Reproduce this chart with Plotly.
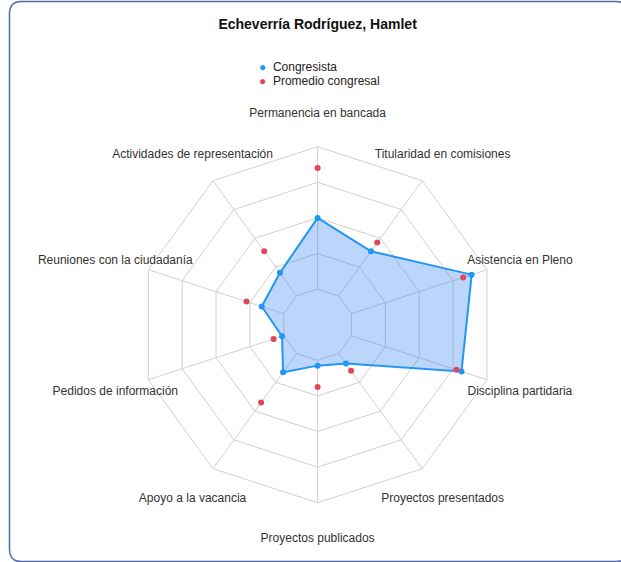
import plotly.graph_objects as go

W, H = 621, 562

categories = [
    "Permanencia en bancada",
    "Titularidad en comisiones",
    "Asistencia en Pleno",
    "Disciplina partidaria",
    "Proyectos presentados",
    "Proyectos publicados",
    "Apoyo a la vacancia",
    "Pedidos de información",
    "Reuniones con la ciudadanía",
    "Actividades de representación",
]
congresista = [60, 51, 91, 85, 27, 23, 33, 21, 33, 36]
promedio = [88, 57, 86, 82, 32, 35, 54, 26, 42, 51]
ring_ticks = [20, 40, 60, 80, 100]

GRID = "#d0d0d0"
BLUE = "#2196f3"
RED = "#e0475e"
FONT = "Liberation Sans, Arial, sans-serif"


def px(x, y):
    # pixel -> paper coords (margins are zero)
    return x / W, 1 - y / H


def domain(cx, cy, r):
    a, b = px(cx - r, cy + r)
    c, d = px(cx + r, cy - r)
    return dict(x=[a, c], y=[b, d])


fig = go.Figure()

# spokes: from the innermost ring out to the edge
for cat in categories:
    fig.add_trace(go.Scatterpolar(
        r=[ring_ticks[0], ring_ticks[-1]], theta=[cat, cat],
        mode="lines", line=dict(color=GRID, width=1),
        showlegend=False, hoverinfo="skip",
    ))

# filled outline for the congresista
fig.add_trace(go.Scatterpolar(
    r=congresista + congresista[:1],
    theta=categories + categories[:1],
    mode="lines",
    line=dict(color=BLUE, width=2),
    fill="toself",
    fillcolor="rgba(33,120,243,0.3)",
    showlegend=False, hoverinfo="skip",
))

fig.add_trace(go.Scatterpolar(
    r=congresista, theta=categories,
    mode="markers", name="Congresista",
    marker=dict(color=BLUE, size=6),
))

fig.add_trace(go.Scatterpolar(
    r=promedio, theta=categories,
    mode="markers", name="Promedio congresal",
    marker=dict(color=RED, size=6),
))

# category names on a second, invisible polar 1.2x larger
fig.add_trace(go.Scatterpolar(
    r=[ring_ticks[-1]] * len(categories), theta=categories,
    mode="text", text=categories, textposition="middle center",
    textfont=dict(size=12, color="#333333", family=FONT),
    cliponaxis=False, showlegend=False, hoverinfo="skip",
    subplot="polar2",
))

# hand-made compact legend (dot + name)
legend_items = [("Congresista", BLUE), ("Promedio congresal", RED)]
annotations = []
for i, (name, col) in enumerate(legend_items):
    lx, ly = px(257, 67 + 14 * i)
    annotations.append(dict(
        x=lx, y=ly, xref="paper", yref="paper",
        xanchor="left", yanchor="middle", showarrow=False,
        text=f"<span style='color:{col}'>●</span>  {name}",
        font=dict(size=12, color="#222222", family=FONT),
    ))

x0, y0 = px(9.5, 1.5)
x1, y1 = px(628, 561.5)
rx, ry = 12 / W, 12 / H
border = (
    f"M {x0 + rx},{y0} L {x1 - rx},{y0} Q {x1},{y0} {x1},{y0 - ry} "
    f"L {x1},{y1 + ry} Q {x1},{y1} {x1 - rx},{y1} "
    f"L {x0 + rx},{y1} Q {x0},{y1} {x0},{y1 + ry} "
    f"L {x0},{y0 - ry} Q {x0},{y0} {x0 + rx},{y0} Z"
)

cx, cy, R = 317.6, 324.7, 178
hidden = dict(showticklabels=False, ticks="", showline=False, showgrid=False)

fig.update_layout(
    width=W, height=H,
    margin=dict(l=0, r=0, t=0, b=0),
    paper_bgcolor="white",
    plot_bgcolor="white",
    showlegend=False,
    font=dict(family=FONT, size=12, color="#333333"),
    title=dict(
        text="<b>Echeverría Rodríguez, Hamlet</b>",
        x=cx / W, xanchor="center", y=1 - 24 / H, yanchor="middle",
        font=dict(size=14, color="#111111", family=FONT),
    ),
    annotations=annotations,
    polar=dict(
        domain=domain(cx, cy, R),
        gridshape="linear",
        bgcolor="white",
        radialaxis=dict(
            range=[0, 100], tickvals=ring_ticks,
            showticklabels=False, ticks="", showline=False,
            gridcolor=GRID, gridwidth=1,
        ),
        angularaxis=dict(
            rotation=90, direction="clockwise",
            showticklabels=False, ticks="", showgrid=False,
            showline=True, linecolor=GRID, linewidth=1,
        ),
    ),
    polar2=dict(
        domain=domain(cx, cy + 2, R * 1.195),
        gridshape="linear",
        bgcolor="rgba(0,0,0,0)",
        radialaxis=dict(range=[0, 100], **hidden),
        angularaxis=dict(rotation=90, direction="clockwise",
                         categoryarray=categories, **hidden),
    ),
    shapes=[dict(
        type="path", xref="paper", yref="paper", path=border,
        line=dict(color="#5068a8", width=1.5), layer="above",
    )],
)

fig.write_html(
    "out.html",
    config={"displayModeBar": False},
    post_script="document.body.style.margin='0';",
)
